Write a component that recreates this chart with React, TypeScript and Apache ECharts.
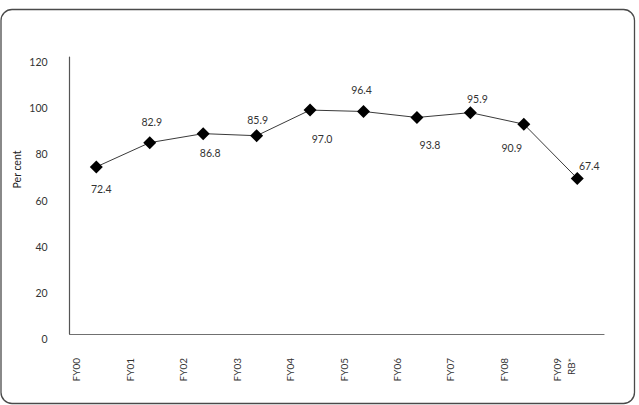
import React, { useEffect, useRef } from "react";
import * as echarts from "echarts";

// Fiscal-year categories and the plotted percentages
const categories = ["FY00", "FY01", "FY02", "FY03", "FY04", "FY05", "FY06", "FY07", "FY08", "FY09\nRB*"];
const values = [72.4, 82.9, 86.8, 85.9, 97.0, 96.4, 93.8, 95.9, 90.9, 67.4];
// Offset of each value label from its marker
const labelOffsets: [number, number][] = [
  [5, 22], [2, -21], [7, 19], [1, -16], [12, 29],
  [-2, -21], [13, 28], [7, -14], [-12, 24], [12, -12],
];
const yTicks = { min: 0, max: 120, interval: 20 };

const FONT = "Lato, 'Noto Sans', sans-serif";

export default function App() {
  const ref = useRef<HTMLDivElement>(null);

  useEffect(() => {
    if (!ref.current) return;
    const chart = echarts.init(ref.current, null, { renderer: "svg" });
    chart.setOption({
      animation: false,
      backgroundColor: "#ffffff",
      grid: { left: 69.6, right: 35, top: 57, bottom: 71, containLabel: false },
      graphic: [
        {
          type: "rect",
          shape: { x: 1, y: 9.5, width: 633.5, height: 394, r: 11 },
          style: { fill: "none", stroke: "#4a4a4a", lineWidth: 1.3 },
          silent: true,
        },
        {
          type: "text",
          x: 17,
          y: 169.5,
          rotation: Math.PI / 2,
          style: {
            text: "Per cent",
            font: `10.5px ${FONT}`,
            fill: "#222",
            align: "center",
            verticalAlign: "middle",
          },
        },
      ],
      xAxis: [
        {
          type: "category",
          data: categories,
          boundaryGap: true,
          axisLine: { show: true, lineStyle: { color: "#707070", width: 1.2 } },
          axisTick: { show: false },
          axisLabel: { show: false },
          splitLine: { show: false },
        },
        {
          // label-only axis placing each name at the left edge of its category
          type: "category",
          position: "bottom",
          data: [...categories, ""],
          boundaryGap: false,
          axisLine: { show: false },
          axisTick: { show: false },
          splitLine: { show: false },
          axisLabel: {
            show: true,
            interval: 0,
            rotate: 90,
            margin: 24,
            verticalAlign: "top",
            fontFamily: FONT,
            fontSize: 10,
            lineHeight: 13.5,
            color: "#333",
          },
        },
      ],
      yAxis: {
        type: "value",
        min: yTicks.min,
        max: yTicks.max,
        interval: yTicks.interval,
        axisLine: { show: true, lineStyle: { color: "#555", width: 1.2 } },
        axisTick: { show: false },
        splitLine: { show: false },
        axisLabel: {
          margin: 22,
          fontFamily: FONT,
          fontSize: 10.5,
          color: "#333",
          verticalAlign: "top",
          lineHeight: 10,
        },
      },
      series: [
        {
          type: "line",
          xAxisIndex: 0,
          data: values.map((v, i) => ({
            value: v,
            label: {
              show: true,
              position: "inside",
              offset: labelOffsets[i],
              formatter: (p: any) => Number(p.value).toFixed(1),
            },
          })),
          symbol: "diamond",
          symbolSize: 13,
          itemStyle: { color: "#000" },
          lineStyle: { color: "#3a3a3a", width: 1 },
          label: {
            fontFamily: FONT,
            fontSize: 10.5,
            color: "#333",
          },
        },
      ],
    });
    return () => chart.dispose();
  }, []);

  return (
    <div
      ref={ref}
      style={{ position: "absolute", left: 0, top: 0, width: 639, height: 405 }}
    />
  );
}
